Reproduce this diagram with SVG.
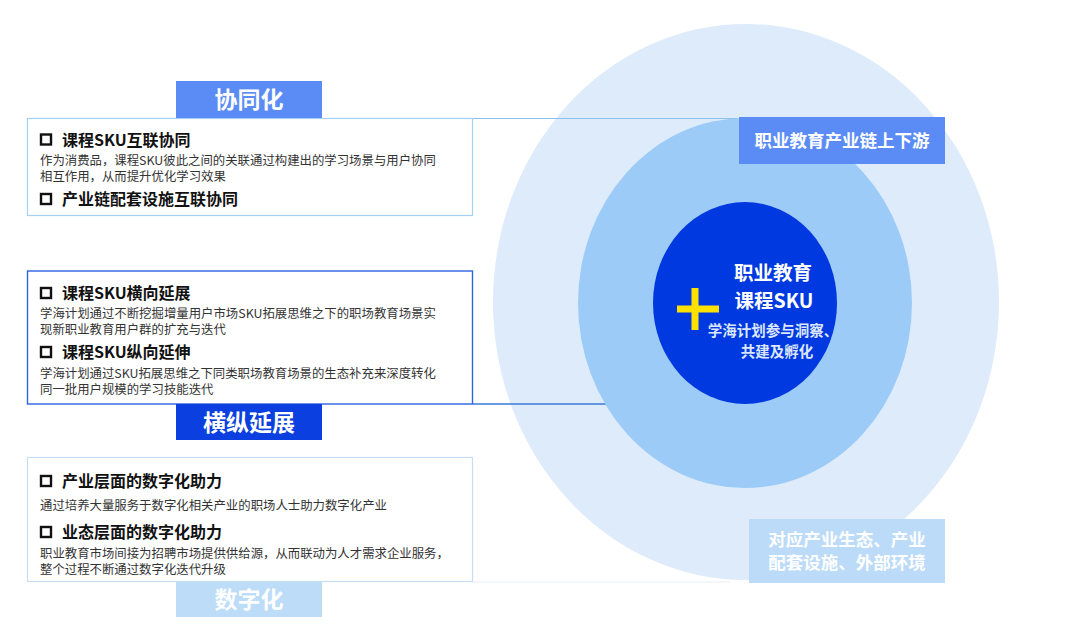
<svg xmlns="http://www.w3.org/2000/svg" width="1080" height="637" viewBox="0 0 1080 637">
<style>
.f{font-family:"Noto Sans CJK SC","Liberation Sans",sans-serif}
.h{font-size:16px;font-weight:700;fill:#111}
.b{font-size:12.4px;fill:#333}
.lbl{font-size:23px;font-weight:700;fill:#fff;text-anchor:middle}
.rl{font-size:17.5px;font-weight:700;fill:#fff;text-anchor:middle}
.ck{fill:none;stroke:#111;stroke-width:2.4}
</style>
<rect width="1080" height="637" fill="#fff"/>
<g id="ring-outer"><ellipse cx="746" cy="302" rx="253" ry="278" fill="#DEEBFB"/></g>
<g id="connectors" fill="none">
<line x1="473" y1="118.5" x2="738" y2="118.5" stroke="#8CC1EE" stroke-width="1.2"/>
<line x1="473" y1="404" x2="740" y2="404" stroke="#3A7AD9" stroke-width="1.4"/>
<line x1="473" y1="582" x2="730" y2="582" stroke="#E8EFF8" stroke-width="1.2"/>
</g>
<g id="ring-middle"><ellipse cx="745" cy="303" rx="167" ry="185" fill="#9DCBF7"/></g>
<g id="core">
<ellipse cx="745" cy="303" rx="92" ry="101" fill="#0039E0"/>
<rect x="677" y="305.5" width="42" height="7" fill="#FFE100"/>
<rect x="691.5" y="288" width="7" height="42" fill="#FFE100"/>
<text class="f" x="773" y="280" font-size="19.5" font-weight="700" fill="#fff" text-anchor="middle">职业教育</text>
<text class="f" x="774" y="307.5" font-size="19.5" font-weight="700" fill="#fff" text-anchor="middle">课程SKU</text>
<text class="f" x="773" y="336" font-size="14.5" font-weight="700" fill="#DCE6FF" text-anchor="middle">学海计划参与洞察、</text>
<text class="f" x="777" y="357" font-size="14.5" font-weight="700" fill="#DCE6FF" text-anchor="middle">共建及孵化</text>
</g>
<g id="label-chain">
<rect x="739" y="117" width="206" height="47" fill="#5B8CF6"/>
<text class="f rl" x="842" y="147">职业教育产业链上下游</text>
</g>
<g id="label-eco">
<rect x="749" y="519" width="196" height="64" fill="#BBDBF8"/>
<text class="f rl" x="847" y="546" font-size="17">对应产业生态、产业</text>
<text class="f rl" x="847" y="569" font-size="17">配套设施、外部环境</text>
</g>
<g id="box-synergy">
<rect x="27.5" y="118.5" width="445" height="97" fill="#fff" stroke="#A6D0F3" stroke-width="1.2"/>
<rect x="41" y="134.5" width="10" height="10" class="ck"/>
<text class="f h" x="62" y="145.5">课程SKU互联协同</text>
<text class="f b" x="40" y="164.5">作为消费品，课程SKU彼此之间的关联通过构建出的学习场景与用户协同</text>
<text class="f b" x="40" y="180.5">相互作用，从而提升优化学习效果</text>
<rect x="41" y="194" width="10" height="10" class="ck"/>
<text class="f h" x="62" y="205">产业链配套设施互联协同</text>
</g>
<g id="tag-synergy">
<rect x="176" y="81" width="146" height="37" fill="#5B8CF6"/>
<text class="f lbl" x="249" y="108">协同化</text>
</g>
<g id="box-extend">
<rect x="27.5" y="271" width="445" height="133" fill="#fff" stroke="#2E63E2" stroke-width="1.4"/>
<rect x="41" y="288" width="10" height="10" class="ck"/>
<text class="f h" x="62" y="299">课程SKU横向延展</text>
<text class="f b" x="40" y="318">学海计划通过不断挖掘增量用户市场SKU拓展思维之下的职场教育场景实</text>
<text class="f b" x="40" y="334">现新职业教育用户群的扩充与迭代</text>
<rect x="41" y="347" width="10" height="10" class="ck"/>
<text class="f h" x="62" y="358">课程SKU纵向延伸</text>
<text class="f b" x="40" y="377.5">学海计划通过SKU拓展思维之下同类职场教育场景的生态补充来深度转化</text>
<text class="f b" x="40" y="393.5">同一批用户规模的学习技能迭代</text>
</g>
<g id="tag-extend">
<rect x="176" y="404" width="146" height="36" fill="#0B3FE0"/>
<text class="f lbl" x="249" y="431">横纵延展</text>
</g>
<g id="box-digital">
<rect x="27.5" y="457.5" width="445" height="124" fill="#fff" stroke="#C5DEF5" stroke-width="1.2"/>
<rect x="41" y="476" width="10" height="10" class="ck"/>
<text class="f h" x="62" y="487">产业层面的数字化助力</text>
<text class="f b" x="40" y="510">通过培养大量服务于数字化相关产业的职场人士助力数字化产业</text>
<rect x="41" y="527" width="10" height="10" class="ck"/>
<text class="f h" x="62" y="538">业态层面的数字化助力</text>
<text class="f b" x="40" y="557.5">职业教育市场间接为招聘市场提供供给源，从而联动为人才需求企业服务，</text>
<text class="f b" x="40" y="573.5">整个过程不断通过数字化迭代升级</text>
</g>
<g id="tag-digital">
<rect x="176" y="582" width="146" height="35" fill="#BCDCF8"/>
<text class="f lbl" x="249" y="608">数字化</text>
</g>
</svg>
